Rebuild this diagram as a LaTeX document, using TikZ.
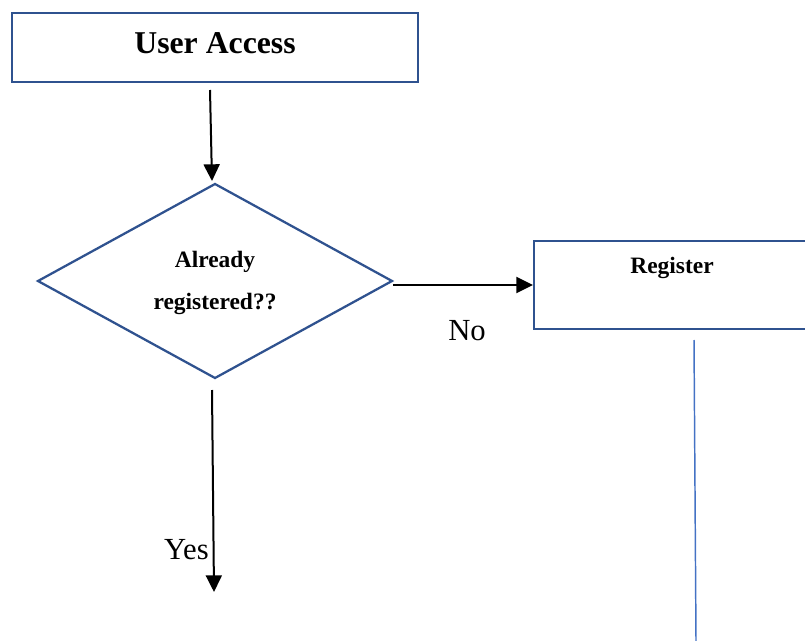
\documentclass[tikz,border=0pt]{standalone}
\usepackage{fontspec}
\setmainfont{Liberation Serif}
\usetikzlibrary{shapes.geometric,arrows.meta,calc}
\definecolor{boxblue}{HTML}{2F528F}
\definecolor{lineblue}{HTML}{4472C4}
\begin{document}
\begin{tikzpicture}[x=0.75pt,y=-0.75pt,
  boxstyle/.style={draw=boxblue,line width=1.9pt,rectangle,inner sep=0pt,outer sep=0pt},
  decstyle/.style={draw=boxblue,line width=1.7pt,diamond,inner sep=0pt,outer sep=0pt,aspect=1.82},
  dectextstyle/.style={align=center,inner sep=0pt,font=\fontsize{17.6}{32}\selectfont\bfseries},
  bigtext/.style={font=\fontsize{23.8}{28}\selectfont\bfseries,inner sep=0pt},
  midtext/.style={font=\fontsize{17.6}{21}\selectfont\bfseries,inner sep=0pt},
  lbltext/.style={font=\fontsize{23}{27}\selectfont,inner sep=0pt},
  arr/.style={line width=1.5pt,-{Triangle[length=12.5pt,width=12pt]}},
  thinblue/.style={draw=lineblue,line width=1.1pt}]
\useasboundingbox (0,0) rectangle (805,641);
\begin{scope}
\clip (0,0) rectangle (805,641);
\node[boxstyle,minimum width=304.5pt,minimum height=51.75pt] (ua) at (215,47.5) {};
\node[bigtext] (uatext) at (215,43.5) {User Access};
\node[decstyle,minimum width=265.5pt,minimum height=145.5pt] (dec) at (215,281) {};
\node[dectextstyle] (dectext) at (215,283) {Already\\registered??};
\node[boxstyle,minimum width=207pt,minimum height=66pt] (register) at (672,285) {};
\node[midtext] (regtext) at (672,268) {Register};
\node[lbltext] (no) at (467,331) {No};
\node[lbltext,anchor=east] (yes) at (209,550) {Yes};
\coordinate (yesend) at (214,592);
\coordinate (blueend) at (696,641);
\draw[arr] ($(ua.south)+(-5,8)$) -- ($(dec.north)+(-3,-3)$);
\draw[arr] ($(dec.east)+(1,4)$) -- ($(register.west)+(-1,0)$);
\draw[arr] ($(dec.south)+(-3,12)$) -- (yesend);
\draw[thinblue] ($(register.south)+(22,11)$) -- (blueend);
\end{scope}
\end{tikzpicture}
\end{document}
